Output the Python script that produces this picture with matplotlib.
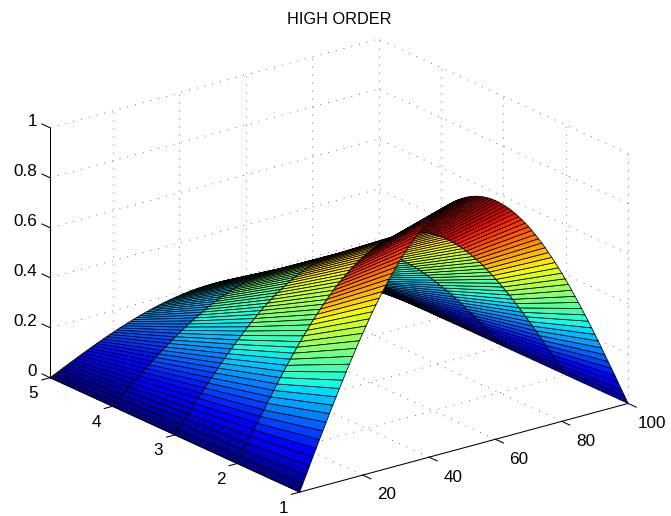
import numpy as np
import matplotlib
matplotlib.use("Agg")
import matplotlib.pyplot as plt
from mpl_toolkits.mplot3d import proj3d

plt.rcParams['font.family'] = ['Liberation Sans', 'DejaVu Sans']

x_values = np.arange(1, 101)
y_values = [1, 2, 3, 4, 5]
ridge_heights = [1.0, 0.74, 0.55, 0.37, 0.20]
arch_profile = [
    .000, .032, .063, .095, .127, .158, .189, .220, .251, .282,
    .312, .342, .372, .401, .430, .458, .486, .514, .541, .567,
    .593, .618, .643, .667, .690, .713, .735, .756, .776, .796,
    .815, .833, .850, .866, .882, .896, .910, .922, .934, .945,
    .955, .964, .972, .979, .985, .990, .994, .997, .999, 1.00,
    1.00, .999, .997, .994, .990, .985, .979, .972, .964, .955,
    .945, .934, .922, .910, .896, .882, .866, .850, .833, .815,
    .796, .776, .756, .735, .713, .690, .667, .643, .618, .593,
    .567, .541, .514, .486, .458, .430, .401, .372, .342, .312,
    .282, .251, .220, .189, .158, .127, .095, .063, .032, .000,
]
x_ticks = [20, 40, 60, 80, 100]
y_ticks = [1, 2, 3, 4, 5]
z_ticks = [0, 0.2, 0.4, 0.6, 0.8, 1]
z_tick_labels = ['0', '0.2', '0.4', '0.6', '0.8', '1']
title = 'HIGH ORDER'

W, H = 671, 516
fig = plt.figure(figsize=(W / 100, H / 100), dpi=100)
ax = fig.add_axes([0, 0, 1, W / H], projection='3d')
ax.set_proj_type('ortho')
ax.view_init(elev=20.6, azim=-127.5)
ax.set_axis_off()
ax.computed_zorder = False
aspect = (414, 410, 267)

X, Y = np.meshgrid(x_values, y_values)
Z = np.outer(ridge_heights, arch_profile)
ax.plot_surface(X, Y, Z, rstride=1, cstride=1, facecolors=plt.cm.jet(Z),
                edgecolor='k', linewidth=0.55, shade=False, zorder=5,
                antialiased=True)

dot = dict(color='0.25', lw=0.6, ls=(0, (1, 8.6)), zorder=1)
for xt in x_ticks[:-1]:
    ax.plot([xt, xt], [1, 5], [0, 0], **dot)
    ax.plot([xt, xt], [5, 5], [0, 1], **dot)
for yt in y_ticks[1:-1]:
    ax.plot([1, 100], [yt, yt], [0, 0], **dot)
    ax.plot([100, 100], [yt, yt], [0, 1], **dot)
for zt in z_ticks[1:]:
    ax.plot([1, 100], [5, 5], [zt, zt], **dot)
    ax.plot([100, 100], [1, 5], [zt, zt], **dot)
ax.plot([100, 100], [5, 5], [0, 1], **dot)
ax.plot([100, 100], [1, 1], [0, 1], **dot)
ax.plot([1, 100], [5, 5], [0, 0], **dot)
ax.plot([100, 100], [1, 5], [0, 0], **dot)

solid = dict(color='k', lw=0.75, zorder=8, clip_on=False)
ax.plot([1, 100], [1, 1], [0, 0], **solid)
ax.plot([1, 1], [1, 5], [0, 0], **solid)
ax.plot([1, 1], [5, 5], [0, 1], **solid)
for xt in x_ticks:
    ax.plot([xt, xt], [1, 0.87], [0, 0], **solid)
for yt in y_ticks:
    ax.plot([1, -1.5], [yt, yt], [0, 0], **solid)
for zt in z_ticks:
    ax.plot([1, 1], [5, 5.13], [zt, zt], **solid)
ax.set_xlim(1, 100); ax.set_ylim(1, 5); ax.set_zlim(0, 1)


def to_pixels(p):
    u, v, _w = proj3d.proj_transform(*p, ax.get_proj())
    px, py = ax.transData.transform((u, v))
    return px, H - py


# fit the drawn box to the reference's frame
targets = {(1, 1, 0): (300, 492), (100, 1, 0): (628, 403), (1, 5, 0): (50, 378), (1, 5, 1): (50, 128)}
want = np.array(list(targets.values()), float)
zoom = 1.0
pos = [0.0, 0.0]
for _ in range(4):
    ax.set_box_aspect(aspect, zoom=zoom)
    fig.canvas.draw()
    got = np.array([to_pixels(p) for p in targets])
    zoom *= np.ptp(want[:, 0]) / np.ptp(got[:, 0])
    ax.set_box_aspect(aspect, zoom=zoom)
    fig.canvas.draw()
    got = np.array([to_pixels(p) for p in targets])
    d = (want - got).mean(axis=0)
    pos[0] += d[0] / W
    pos[1] -= d[1] / H
    ax.set_position([pos[0], pos[1], 1, W / H])
fig.canvas.draw()


def label(p, s, **kw):
    px, py = to_pixels(p)
    fig.text(px / W, 1 - py / H, s, va='center', fontsize=12.3, **kw)


for xt in x_ticks:
    label((xt, 0.62, -0.036), str(xt), ha='center')
for yt in y_ticks:
    label((-4, yt, -0.046), str(yt), ha='center')
for zt, lab in zip(z_ticks, z_tick_labels):
    label((1, 5.21, zt), lab, ha='right')

fig.text(339 / W, 1 - 20 / H, title, ha='center', va='center', fontsize=11.7)
fig.savefig('out.png', dpi=100)
